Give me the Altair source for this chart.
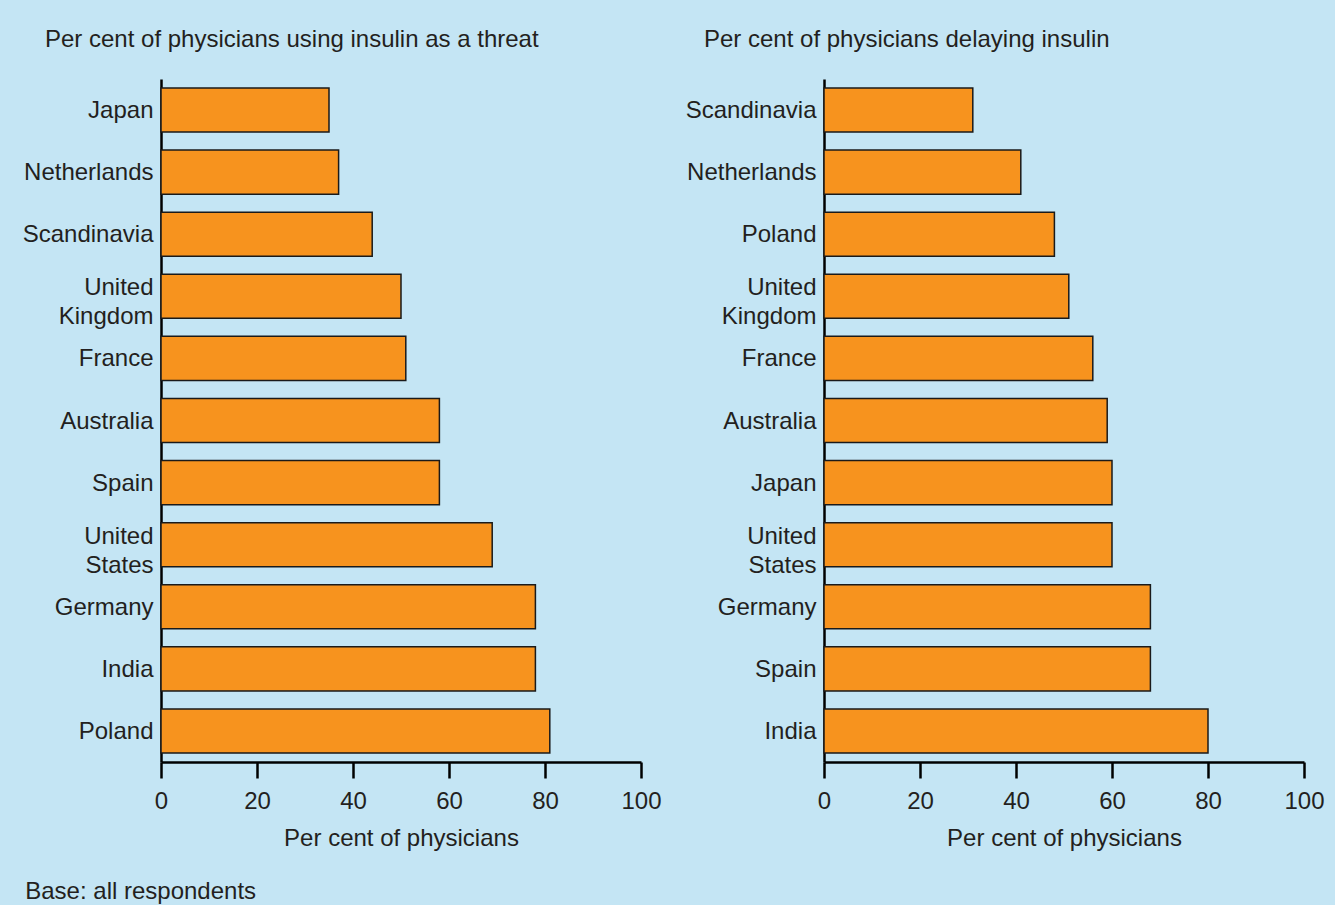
import altair as alt
import pandas as pd

# Left panel: physicians who use insulin as a threat
threat_countries = ["Japan", "Netherlands", "Scandinavia", "United Kingdom", "France",
                    "Australia", "Spain", "United States", "Germany", "India", "Poland"]
threat_values = [35, 37, 44, 50, 51, 58, 58, 69, 78, 78, 81]

# Right panel: physicians who delay insulin
delay_countries = ["Scandinavia", "Netherlands", "Poland", "United Kingdom", "France",
                   "Australia", "Japan", "United States", "Germany", "Spain", "India"]
delay_values = [31, 41, 48, 51, 56, 59, 60, 60, 68, 68, 80]

x_ticks = [0, 20, 40, 60, 80, 100]

FONT = "Liberation Sans"
INK = "#231f20"
BG = "#c4e5f4"
ORANGE = "#f7931e"
FS = 24


def panel(countries, values, title, dx):
    df = pd.DataFrame({"country": countries, "pct": values})
    return (
        alt.Chart(
            df,
            title=alt.TitleParams(
                title, anchor="start", frame="group", dx=dx, offset=8,
                baseline="alphabetic",
            ),
        )
        .mark_bar(fill=ORANGE, stroke="#1a1a1a", strokeWidth=1.5)
        .encode(
            x=alt.X(
                "pct:Q",
                scale=alt.Scale(domain=[0, 100], nice=False),
                axis=alt.Axis(
                    values=x_ticks, title="Per cent of physicians",
                    tickSize=16, labelPadding=11, titlePadding=13,
                    labelFlush=False,
                ),
            ),
            y=alt.Y(
                "country:N",
                sort=countries,
                scale=alt.Scale(paddingInner=0.29, paddingOuter=0.145),
                axis=alt.Axis(
                    title=None, ticks=False, labelPadding=8,
                    labelExpr="split(datum.label, ' ')", labelLineHeight=29,
                    # two-line names sit a little above their bar's centre line
                    labelOffset={"condition": {"test": "indexof(datum.label, ' ') > 0",
                                               "value": -8},
                                 "value": 1},
                ),
            ),
        )
        .properties(width=480, height=683)
    )


left = panel(threat_countries, threat_values,
             "Per cent of physicians using insulin as a threat", -116)
right = panel(delay_countries, delay_values,
              "Per cent of physicians delaying insulin", -120)

chart = (
    alt.hconcat(
        left, right, spacing=183, bounds="flush",
        title=alt.TitleParams("Base: all respondents", orient="bottom",
                              anchor="start", offset=30, dx=3),
    )
    .configure(background=BG, padding={"left": 22, "top": 28, "right": 10, "bottom": 2})
    .configure_view(stroke=None)
    .configure_axis(
        grid=False, domainColor="black", domainWidth=2.5, tickColor="black",
        tickWidth=2.5, labelFont=FONT, labelFontSize=FS, labelColor=INK,
        titleFont=FONT, titleFontSize=FS, titleColor=INK, titleFontWeight="normal",
    )
    .configure_title(font=FONT, fontSize=FS, color=INK, fontWeight="normal")
)

chart.save("out.html", embed_options={"renderer": "svg", "actions": False})
